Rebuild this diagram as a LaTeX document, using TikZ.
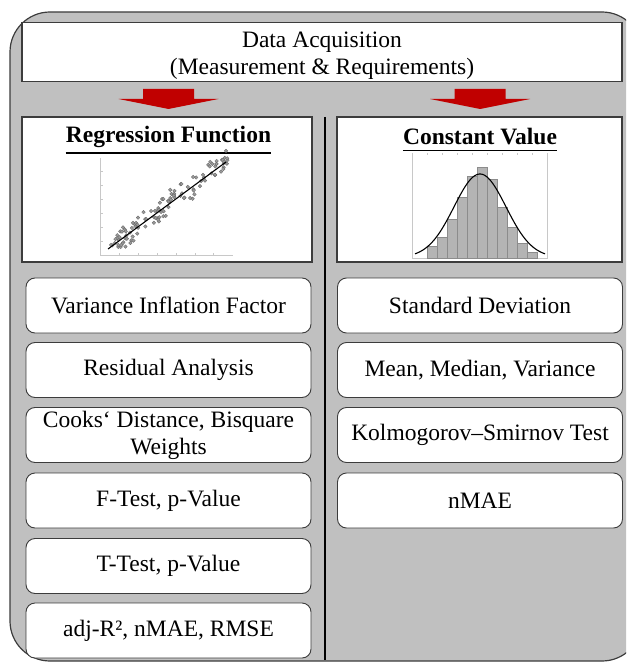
\documentclass[tikz,border=0pt]{standalone}
\usepackage{fontspec}
\setmainfont{Liberation Serif}
\definecolor{panelgray}{HTML}{C0C0C0}
\definecolor{edgegray}{HTML}{3C3C3C}
\definecolor{arrowred}{HTML}{C00000}
\definecolor{axisgray}{HTML}{C8C8C8}
\definecolor{bargray}{HTML}{B4B4B4}
\definecolor{baredge}{HTML}{8C8C8C}
\definecolor{dotfill}{HTML}{9A9A9A}
\definecolor{dotedge}{HTML}{666666}
\begin{document}
\begin{tikzpicture}[x=1pt,y=-1pt,
  txt/.style={font=\fontsize{23.5}{27}\selectfont},
  headbox/.style={draw=edgegray, line width=1.2pt, fill=white, inner sep=0pt,
    minimum width=600pt, minimum height=59pt},
  section/.style={draw=edgegray, line width=1.2pt, fill=white, inner sep=0pt,
    minimum height=145pt},
  item/.style={draw=edgegray, line width=0.9pt, fill=white, rounded corners=9pt,
    inner sep=0pt, minimum height=55pt, minimum width=285pt, align=center, txt},
  title/.style={font=\fontsize{23.5}{27}\selectfont\bfseries, inner sep=0pt},
  blockarrow/.style={fill=arrowred, draw=none}]

\useasboundingbox (0,0) rectangle (626,663);
\clip (0,0) rectangle (626,663);

% grey frame behind everything
\draw[fill=panelgray, draw=edgegray, line width=1.2pt, rounded corners=40pt]
  (10,12) rectangle (642,661);

% header
\node[headbox] (acq) at (322,52) {};
\node[font=\fontsize{23.5}{27.5}\selectfont, align=center, inner sep=0pt] (acqtext) at (322,55.5)
  {Data Acquisition\\(Measurement \& Requirements)};

% two block arrows below the header
\coordinate (tipL) at (168.5,109);
\coordinate (tipR) at (480,109);
\foreach \t in {tipL, tipR}{
  \fill[blockarrow] ([shift={(-25.5,-20)}]\t) -- ([shift={(25.5,-20)}]\t)
    -- ([shift={(25.5,-10)}]\t) -- ([shift={(50,-10)}]\t) -- (\t)
    -- ([shift={(-50,-10)}]\t) -- ([shift={(-25.5,-10)}]\t) -- cycle;
}

% section panels
\node[section, minimum width=290pt] (regpanel) at (167,189.5) {};
\node[section, minimum width=285pt] (constpanel) at (479.5,189.5) {};

% divider
\draw[line width=2pt] (325,117) -- (325,660);

% titles, underlined
\node[title] (regtitle) at (168.5,137) {Regression Function};
\node[title] (consttitle) at (480,137) {Constant Value};
\draw[line width=1.8pt] (regtitle.south west) ++(0,5) coordinate (u1) -- (regtitle.south east |- u1);
\draw[line width=1.8pt] (consttitle.south west) ++(0,5) coordinate (u2) -- (consttitle.south east |- u2);

% scatter plot with fitted line
\begin{scope}
  \draw[axisgray, line width=0.6pt] (100.5,158) -- (100.5,255) -- (233,255);
  \foreach \yy in {171,185,199,213,227,241}
    \draw[axisgray, line width=0.5pt] (100.5,\yy) -- (103,\yy);
  \foreach \xx in {119,138,157,176,195,213}
    \draw[axisgray, line width=0.5pt] (\xx,255) -- (\xx,252.5);
  \pgfmathsetseed{42}
  \foreach \i in {1,...,115}{
    \pgfmathsetmacro{\px}{108+120*rnd}
    \pgfmathsetmacro{\py}{249-(\px-108)*87/118+7*(rand+rand)}
    \draw[fill=dotfill, draw=dotedge, line width=0.3pt] (\px,\py) circle (1.8pt);
  }
  \draw[line width=1.1pt] (108,249) -- (226,162);
\end{scope}

% histogram with normal curve
\begin{scope}
  \draw[axisgray, line width=0.6pt] (412,153) -- (412,258) -- (547,258) -- (547,153);
  \foreach \xx in {427,442,457,472,487,502,517,532}
    \draw[axisgray, line width=0.5pt] (\xx,153) -- (\xx,155);
  \foreach \x/\h in {427/246,437/237,447/219,457/197,467/176,477/167,487/179,497/207,507/227,517/243,527/252}
    \draw[fill=bargray, draw=baredge, line width=0.6pt] (\x,258) rectangle ++(10,\h-258);
  \draw[line width=1.1pt, domain=415:545, samples=90, smooth]
    plot (\x, {257.5-83.5*exp(-((\x-480)^2)/(2*26^2))});
\end{scope}

% regression checks
\node[item] (vif)   at (168.5,305.5) {Variance Inflation Factor};
\node[item] (res)   at (168.5,370)   {Residual Analysis};
\node[item] (cook)  at (168.5,435)   {Cooks‘ Distance, Bisquare\\Weights};
\node[item] (ftest) at (168.5,500.5) {F-Test, p-Value};
\node[item] (ttest) at (168.5,566)   {T-Test, p-Value};
\node[item] (fit)   at (168.5,630.5) {adj-R², nMAE, RMSE};

% constant value checks
\node[item] (std)  at (480,305.5) {Standard Deviation};
\node[item] (mmv)  at (480,370)   {Mean, Median, Variance};
\node[item] (ks)   at (480,435)   {Kolmogorov–Smirnov Test};
\node[item] (nmae) at (480,500.5) {nMAE};

\end{tikzpicture}
\end{document}
